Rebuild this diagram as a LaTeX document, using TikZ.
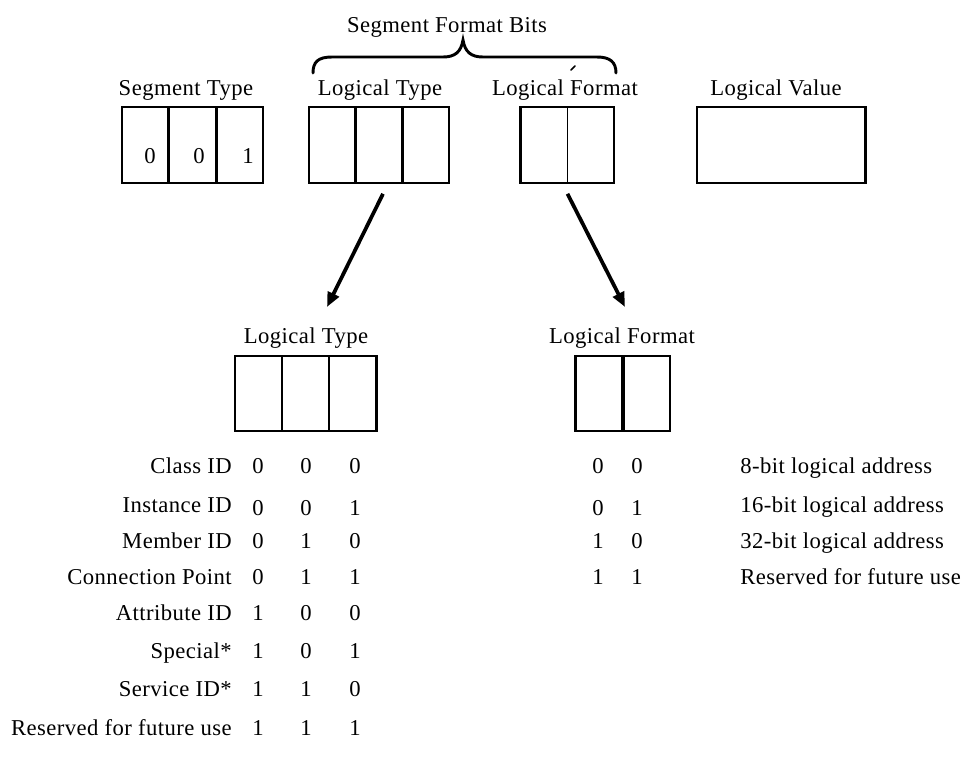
\documentclass[tikz,border=0pt]{standalone}
\usepackage{fontspec}
\setmainfont{Liberation Serif}[LetterSpace=2]
\usetikzlibrary{arrows.meta,calc}
\begin{document}
\begin{tikzpicture}[x=0.75pt,y=-0.75pt,
  lbl/.style={inner sep=0pt,anchor=base,font=\fontsize{17}{20}\selectfont},
  field/.style={draw,line width=1.2pt,inner sep=0pt,minimum height=57pt},
  heavy/.style={line width=2.4pt},
  arr/.style={line width=2.8pt,-{Triangle[length=11pt,width=9pt]}},
  bracestyle/.style={line width=2.2pt,line cap=round}]

% page
\fill[white] (0,0) rectangle (979,758);
\useasboundingbox (0,0) rectangle (979,758);

% ---- top row of fields ----
\node[lbl] (segTlab) at (186,95) {Segment Type};
\node[lbl] (ltTlab)  at (380,95) {Logical Type};
\node[lbl] (lfTlab)  at (565,95) {Logical Format};
\node[lbl] (lvlab)   at (776,95) {Logical Value};
\node[lbl] (sfb)     at (447,32) {Segment Format Bits};

\node[field,minimum width=105.75pt] (segT) at (192.5,145) {};
\node[field,minimum width=105pt]    (ltTop) at (379,145) {};
\node[field,minimum width=69.75pt]  (lfTop) at (567.5,145) {};
\node[field,minimum width=126pt]    (lv)   at (781,145) {};

% segment type cells
\draw[heavy] ($(segT.north west)!1/3!(segT.north east)$) -- ($(segT.south west)!1/3!(segT.south east)$);
\draw[heavy] ($(segT.north west)!2/3!(segT.north east)$) -- ($(segT.south west)!2/3!(segT.south east)$);
\node[lbl] (sb1) at (150,163) {0};
\node[lbl] (sb2) at (199,163) {0};
\node[lbl] (sb3) at (248,163) {1};

% logical type cells
\draw[heavy] ($(ltTop.north west)!1/3!(ltTop.north east)$) -- ($(ltTop.south west)!1/3!(ltTop.south east)$);
\draw[heavy] ($(ltTop.north west)!2/3!(ltTop.north east)$) -- ($(ltTop.south west)!2/3!(ltTop.south east)$);

% logical format cells
\draw[heavy] (lfTop.north west) -- (lfTop.south west);
\draw[line width=1.2pt] (lfTop.north) -- (lfTop.south);

% logical value
\draw[heavy] (lv.north east) -- (lv.south east);

% brace over the format bits
\draw[bracestyle] (313,73) .. controls (313,62) and (318,57) .. (332,57) -- (443,57)
  .. controls (455,57) and (461,52) .. (463,40)
  .. controls (465,52) and (471,57) .. (483,57) -- (597,57)
  .. controls (610,57) and (616,62) .. (616,73);
\draw[line width=1.2pt,line cap=round] (571,70) -- (575,66);

% ---- expanded fields ----
\node[lbl] (ltBlab) at (306,343) {Logical Type};
\node[lbl] (lfBlab) at (622,343) {Logical Format};

\node[field,minimum width=105.75pt,minimum height=56.25pt] (ltBot) at (305.5,393.5) {};
\node[field,minimum width=70.5pt,minimum height=56.25pt]  (lfBot) at (623,393.5) {};

\draw[line width=1.2pt] ($(ltBot.north west)!1/3!(ltBot.north east)$) -- ($(ltBot.south west)!1/3!(ltBot.south east)$);
\draw[line width=1.2pt] ($(ltBot.north west)!2/3!(ltBot.north east)$) -- ($(ltBot.south west)!2/3!(ltBot.south east)$);
\draw[heavy] (ltBot.north east) -- (ltBot.south east);

\draw[heavy] (lfBot.north west) -- (lfBot.south west);
\draw[heavy] (lfBot.north) -- (lfBot.south);

% arrows
\coordinate (ltTip) at (327,307);
\coordinate (lfTip) at (625,307);
\draw[arr] ([shift={(4,10)}]ltTop.south) -- (ltTip);
\draw[arr] ([shift={(0,10)}]lfTop.south) -- (lfTip);

% ---- logical type codes ----
\foreach \lab/\a/\b/\c/\yy/\dy [count=\i] in {
  Class ID/0/0/0/473/0,
  Instance ID/0/0/1/512/3,
  Member ID/0/1/0/548/0,
  Connection Point/0/1/1/584/0,
  Attribute ID/1/0/0/620/0,
  Special*/1/0/1/658/0,
  Service ID*/1/1/0/696/0,
  Reserved for future use/1/1/1/735/0} {
  \node[lbl,anchor=base east] (tl\i) at (232,\yy) {\lab};
  \node[lbl] (ta\i) at (258,\yy+\dy) {\a};
  \node[lbl] (tb\i) at (306,\yy+\dy) {\b};
  \node[lbl] (tc\i) at (355,\yy+\dy) {\c};
}

% ---- logical format codes ----
\foreach \a/\b/\txt/\yy/\dy [count=\i] in {
  0/0/8-bit logical address/473/0,
  0/1/16-bit logical address/512/3,
  1/0/32-bit logical address/548/0,
  1/1/Reserved for future use/584/0} {
  \node[lbl] (fa\i) at (598,\yy+\dy) {\a};
  \node[lbl] (fb\i) at (637,\yy+\dy) {\b};
  \node[lbl,anchor=base west] (ft\i) at (740,\yy) {\txt};
}

\end{tikzpicture}
\end{document}
